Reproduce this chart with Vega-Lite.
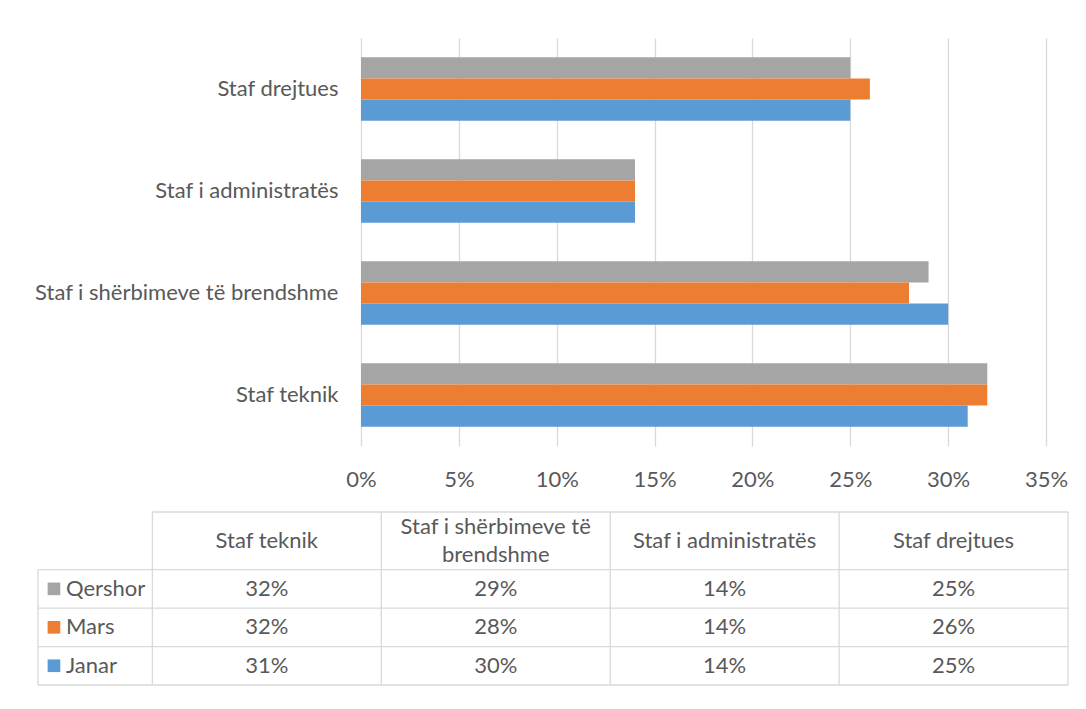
{
  "$schema": "https://vega.github.io/schema/vega-lite/v6.json",
  "background": "white",
  "padding": {"left": 24, "top": 38, "right": 18, "bottom": 10},
  "config": {
    "view": {"stroke": null},
    "font": "Lato"
  },
  "datasets": {
    "main": [
      {"category": "Staf drejtues", "series": "Qershor", "value": 0.25},
      {"category": "Staf drejtues", "series": "Mars", "value": 0.26},
      {"category": "Staf drejtues", "series": "Janar", "value": 0.25},
      {"category": "Staf i administratës", "series": "Qershor", "value": 0.14},
      {"category": "Staf i administratës", "series": "Mars", "value": 0.14},
      {"category": "Staf i administratës", "series": "Janar", "value": 0.14},
      {"category": "Staf i shërbimeve të brendshme", "series": "Qershor", "value": 0.29},
      {"category": "Staf i shërbimeve të brendshme", "series": "Mars", "value": 0.28},
      {"category": "Staf i shërbimeve të brendshme", "series": "Janar", "value": 0.30},
      {"category": "Staf teknik", "series": "Qershor", "value": 0.32},
      {"category": "Staf teknik", "series": "Mars", "value": 0.32},
      {"category": "Staf teknik", "series": "Janar", "value": 0.31}
    ],
    "headers": [
      {"category": "Staf teknik", "col": 0, "header": ["Staf teknik"]},
      {"category": "Staf i shërbimeve të brendshme", "col": 1, "header": ["Staf i shërbimeve të", "brendshme"]},
      {"category": "Staf i administratës", "col": 2, "header": ["Staf i administratës"]},
      {"category": "Staf drejtues", "col": 3, "header": ["Staf drejtues"]}
    ],
    "seriesInfo": [
      {"series": "Qershor", "row": 0},
      {"series": "Mars", "row": 1},
      {"series": "Janar", "row": 2}
    ],
    "gridLines": [
      {"x": 0, "x2": 4, "y": -1.5, "y2": -1.5},
      {"x": -0.5, "x2": 4, "y": 0, "y2": 0},
      {"x": -0.5, "x2": 4, "y": 1, "y2": 1},
      {"x": -0.5, "x2": 4, "y": 2, "y2": 2},
      {"x": -0.5, "x2": 4, "y": 3, "y2": 3},
      {"x": -0.5, "x2": -0.5, "y": 0, "y2": 3},
      {"x": 0, "x2": 0, "y": -1.5, "y2": 3},
      {"x": 1, "x2": 1, "y": -1.5, "y2": 3},
      {"x": 2, "x2": 2, "y": -1.5, "y2": 3},
      {"x": 3, "x2": 3, "y": -1.5, "y2": 3},
      {"x": 4, "x2": 4, "y": -1.5, "y2": 3}
    ]
  },
  "spacing": 5,
  "vconcat": [
    {
      "width": 685,
      "height": 408,
      "data": {"name": "main"},
      "mark": {"type": "bar"},
      "encoding": {
        "y": {
          "field": "category",
          "type": "nominal",
          "sort": ["Staf drejtues", "Staf i administratës", "Staf i shërbimeve të brendshme", "Staf teknik"],
          "scale": {"paddingInner": 0.377, "paddingOuter": 0.1885},
          "axis": {
            "title": null,
            "domain": false,
            "ticks": false,
            "labelPadding": 23,
            "labelFontSize": 22,
            "labelColor": "#595959",
            "labelLimit": 400,
            "minExtent": 337
          }
        },
        "x": {
          "field": "value",
          "type": "quantitative",
          "scale": {"domain": [0, 0.35], "nice": false},
          "axis": {
            "title": null,
            "format": ".0%",
            "values": [0, 0.05, 0.1, 0.15, 0.2, 0.25, 0.3, 0.35],
            "domain": false,
            "ticks": false,
            "grid": true,
            "gridColor": "#D9D9D9",
            "gridWidth": 1.3,
            "labelPadding": 23,
            "labelFontSize": 22,
            "labelColor": "#595959",
            "labelFlush": false,
            "labelOverlap": false,
            "minExtent": 60
          }
        },
        "yOffset": {
          "field": "series",
          "type": "nominal",
          "sort": ["Qershor", "Mars", "Janar"],
          "scale": {"paddingInner": 0, "paddingOuter": 0}
        },
        "color": {
          "field": "series",
          "type": "nominal",
          "scale": {"domain": ["Qershor", "Mars", "Janar"], "range": ["#A5A5A5", "#ED7D31", "#5B9BD5"]},
          "legend": null
        }
      }
    },
    {
      "width": 707,
      "height": 173,
      "layer": [
        {
          "data": {"name": "gridLines"},
          "mark": {"type": "rule", "color": "#D9D9D9", "strokeWidth": 1.3},
          "encoding": {
            "x": {"field": "x", "type": "quantitative", "scale": {"domain": [0.9113, 4], "nice": false, "zero": false}, "axis": null},
            "x2": {"field": "x2"},
            "y": {"field": "y", "type": "quantitative", "scale": {"domain": [-1.5, 3], "nice": false, "zero": false, "reverse": true}, "axis": null},
            "y2": {"field": "y2"}
          }
        },
        {
          "data": {"name": "headers"},
          "transform": [{"filter": "datum.col != 1"}],
          "mark": {"type": "text", "fontSize": 22, "color": "#595959", "align": "center", "baseline": "middle", "dx": 114.4, "lineHeight": 28},
          "encoding": {
            "x": {"field": "col", "type": "quantitative", "scale": {"domain": [0.9113, 4], "nice": false, "zero": false}, "axis": null},
            "y": {"datum": -0.75, "type": "quantitative", "scale": {"domain": [-1.5, 3], "nice": false, "zero": false, "reverse": true}, "axis": null},
            "text": {"field": "header", "type": "nominal"}
          }
        },
        {
          "data": {"name": "headers"},
          "transform": [{"filter": "datum.col == 1"}],
          "mark": {"type": "text", "fontSize": 22, "color": "#595959", "align": "center", "baseline": "middle", "dx": 114.4, "dy": -14, "lineHeight": 28},
          "encoding": {
            "x": {"field": "col", "type": "quantitative", "scale": {"domain": [0.9113, 4], "nice": false, "zero": false}, "axis": null},
            "y": {"datum": -0.75, "type": "quantitative", "scale": {"domain": [-1.5, 3], "nice": false, "zero": false, "reverse": true}, "axis": null},
            "text": {"field": "header", "type": "nominal"}
          }
        },
        {
          "data": {"name": "main"},
          "transform": [
            {"lookup": "category", "from": {"data": {"name": "headers"}, "key": "category", "fields": ["col"]}},
            {"lookup": "series", "from": {"data": {"name": "seriesInfo"}, "key": "series", "fields": ["row"]}}
          ],
          "mark": {"type": "text", "fontSize": 22, "color": "#595959", "align": "center", "baseline": "middle", "dx": 114.4, "dy": 19.2},
          "encoding": {
            "x": {"field": "col", "type": "quantitative", "scale": {"domain": [0.9113, 4], "nice": false, "zero": false}, "axis": null},
            "y": {"field": "row", "type": "quantitative", "scale": {"domain": [-1.5, 3], "nice": false, "zero": false, "reverse": true}, "axis": null},
            "text": {"field": "value", "type": "quantitative", "format": ".0%"}
          }
        },
        {
          "data": {"name": "seriesInfo"},
          "mark": {"type": "text", "fontSize": 22, "color": "#595959", "align": "left", "baseline": "middle", "dx": 28, "dy": 19.2},
          "encoding": {
            "x": {"datum": -0.5, "type": "quantitative", "scale": {"domain": [0.9113, 4], "nice": false, "zero": false}, "axis": null},
            "y": {"field": "row", "type": "quantitative", "scale": {"domain": [-1.5, 3], "nice": false, "zero": false, "reverse": true}, "axis": null},
            "text": {"field": "series", "type": "nominal"}
          }
        },
        {
          "data": {"name": "seriesInfo"},
          "mark": {"type": "square", "size": 160, "opacity": 1, "filled": true, "xOffset": 16, "yOffset": 19.2},
          "encoding": {
            "x": {"datum": -0.5, "type": "quantitative", "scale": {"domain": [0.9113, 4], "nice": false, "zero": false}, "axis": null},
            "y": {"field": "row", "type": "quantitative", "scale": {"domain": [-1.5, 3], "nice": false, "zero": false, "reverse": true}, "axis": null},
            "color": {
              "field": "series",
              "type": "nominal",
              "scale": {"domain": ["Qershor", "Mars", "Janar"], "range": ["#A5A5A5", "#ED7D31", "#5B9BD5"]},
              "legend": null
            }
          }
        }
      ]
    }
  ]
}
